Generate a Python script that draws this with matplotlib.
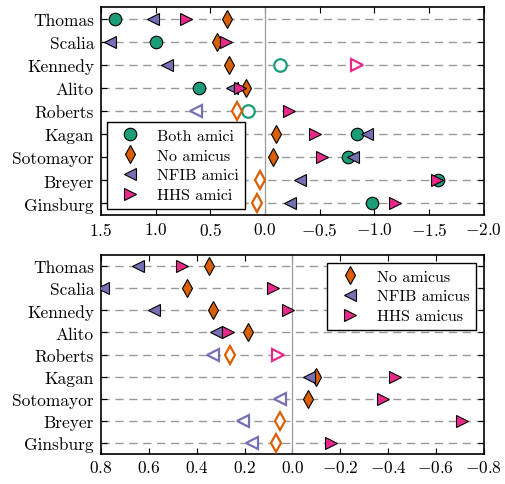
import numpy as np
import matplotlib.pyplot as plt

# justices, top to bottom
justices = ['Thomas', 'Scalia', 'Kennedy', 'Alito', 'Roberts',
            'Kagan', 'Sotomayor', 'Breyer', 'Ginsburg']

# top panel: effects with amici
both_amici = [1.37, 1.00, -0.14, 0.60, 0.16, -0.84, -0.76, -1.58, -0.98]
both_sig = [1, 1, 0, 1, 0, 1, 1, 1, 1]
no_amicus = [0.35, 0.44, 0.33, 0.17, 0.26, -0.10, -0.07, 0.05, 0.07]
no_sig = [1, 1, 1, 1, 0, 1, 1, 0, 0]
nfib_amici = [1.02, 1.42, 0.90, 0.30, 0.63, -0.93, -0.80, -0.32, -0.23]
nfib_sig = [1, 1, 1, 1, 0, 1, 1, 1, 1]
hhs_amici = [0.72, 0.36, -0.84, 0.23, -0.22, -0.46, -0.52, -1.57, -1.19]
hhs_sig = [1, 1, 0, 1, 1, 1, 1, 1, 1]

# bottom panel: single amicus
no_amicus2 = [0.35, 0.44, 0.33, 0.185, 0.26, -0.10, -0.065, 0.05, 0.07]
no_sig2 = [1, 1, 1, 1, 0, 1, 1, 0, 0]
nfib_amicus = [0.645, 0.79, 0.58, 0.32, 0.33, -0.07, 0.05, 0.205, 0.17]
nfib_sig2 = [1, 1, 1, 1, 0, 1, 0, 0, 0]
hhs_amicus = [0.46, 0.08, 0.02, 0.27, 0.06, -0.43, -0.38, -0.71, -0.16]
hhs_sig2 = [1, 1, 1, 1, 0, 1, 1, 1, 1]

plt.rcParams['font.family'] = 'serif'
plt.rcParams['font.serif'] = ['cmr10']
plt.rcParams['mathtext.fontset'] = 'cm'
plt.rcParams['axes.formatter.use_mathtext'] = True
plt.rcParams['xtick.direction'] = 'in'
plt.rcParams['ytick.direction'] = 'in'
plt.rcParams['xtick.top'] = True
plt.rcParams['ytick.right'] = True
plt.rcParams['font.size'] = 12.5

teal = '#1b9e77'
orange = '#d95f02'
purple = '#7570b3'
pink = '#e7298a'


#Function: draws one series, filled markers for significant values, hollow otherwise
def draw(ax, vals, sig, marker, color, label):
    y = np.arange(len(vals))
    vals = np.array(vals)
    sig = np.array(sig, dtype=bool)
    ax.plot(vals[sig], y[sig], ls='none', marker=marker, ms=9,
            mfc=color, mec='black', mew=0.8, label=label, zorder=3)
    ax.plot(vals[~sig], y[~sig], ls='none', marker=marker, ms=9,
            mfc='white', mec=color, mew=1.6, zorder=3)


def setup(ax):
    ax.set_yticks(np.arange(len(justices)))
    ax.set_yticklabels(justices)
    ax.set_ylim(len(justices) - 0.5, -0.5)
    ax.axvline(0, color='#999999', lw=0.9, zorder=1)
    ax.yaxis.grid(True, ls=(0, (6, 4)), color='#999999', lw=1.0)
    ax.set_axisbelow(True)
    ax.tick_params(length=4, width=0.8, pad=4)
    ax.tick_params(axis='y', pad=5)
    for s in ax.spines.values():
        s.set_linewidth(1.2)


fig = plt.figure(figsize=(5.05, 4.85), dpi=100)
ax1 = fig.add_axes([0.2, 0.5546, 0.758, 0.4289])
ax2 = fig.add_axes([0.2, 0.062, 0.758, 0.41])

draw(ax1, both_amici, both_sig, 'o', teal, 'Both amici')
draw(ax1, no_amicus, no_sig, 'd', orange, 'No amicus')
draw(ax1, nfib_amici, nfib_sig, '<', purple, 'NFIB amici')
draw(ax1, hhs_amici, hhs_sig, '>', pink, 'HHS amici')
setup(ax1)
ax1.set_xlim(1.5, -2.0)
ax1.set_xticks(np.arange(1.5, -2.01, -0.5))
ax1.legend(loc='lower left', numpoints=1, fontsize=11.5, fancybox=False,
           edgecolor='black', framealpha=1, borderaxespad=0.4,
           handletextpad=0.7, labelspacing=0.35)

draw(ax2, no_amicus2, no_sig2, 'd', orange, 'No amicus')
draw(ax2, nfib_amicus, nfib_sig2, '<', purple, 'NFIB amicus')
draw(ax2, hhs_amicus, hhs_sig2, '>', pink, 'HHS amicus')
setup(ax2)
ax2.set_xlim(0.8, -0.8)
ax2.set_xticks(np.arange(0.8, -0.81, -0.2))
ax2.legend(loc='upper right', numpoints=1, fontsize=11.5, fancybox=False,
           edgecolor='black', framealpha=1, borderaxespad=0.5,
           handletextpad=0.7, labelspacing=0.35)

fig.savefig('out.png', dpi=100)
